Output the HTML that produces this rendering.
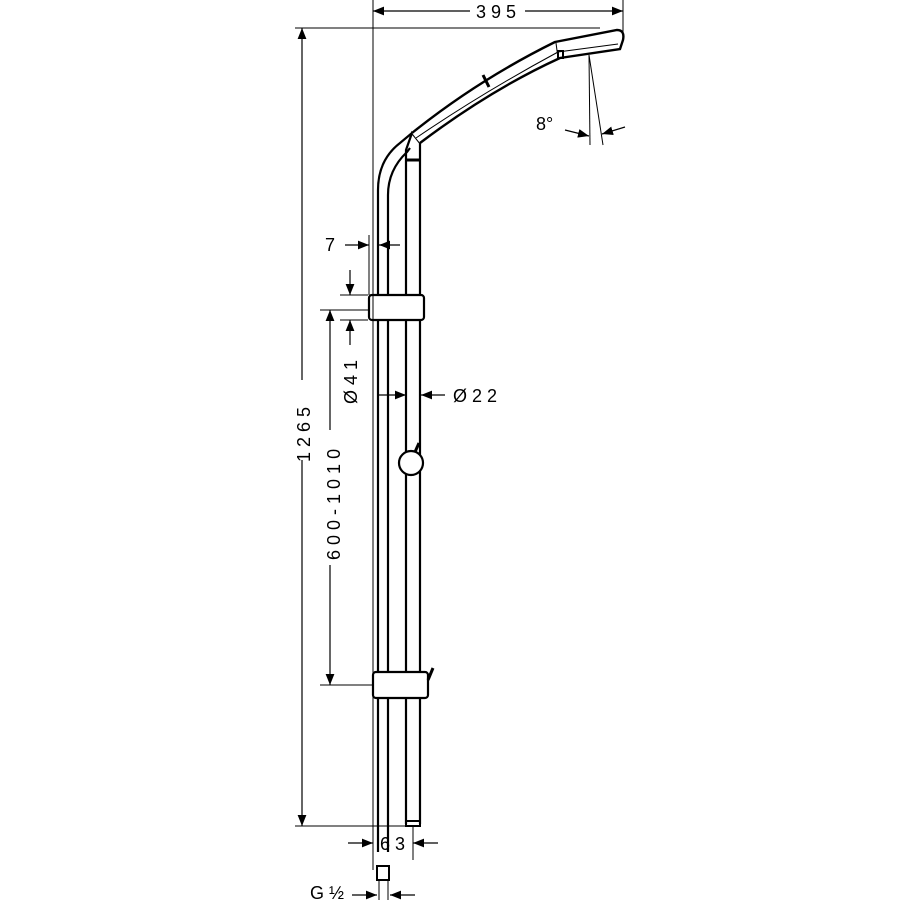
<!DOCTYPE html>
<html><head><style>body{margin:0;background:#fff}svg{display:block}text{font-family:"Liberation Sans",sans-serif;font-size:18px;fill:#000}</style></head><body>
<svg width="900" height="900" viewBox="0 0 900 900">
<defs><marker id="a" viewBox="0 0 10 10" refX="10" refY="5" markerWidth="11" markerHeight="11" markerUnits="userSpaceOnUse" orient="auto"><path d="M0,1 L10,5 L0,9z" fill="#000"/></marker></defs>
<g stroke="#000" fill="none">
<line x1="373" y1="0" x2="373" y2="870" stroke-width="1"/>
<line x1="623" y1="0" x2="623" y2="40" stroke-width="1"/>
<line x1="295" y1="28" x2="600" y2="28" stroke-width="1"/>
<line x1="295" y1="826" x2="420" y2="826" stroke-width="1"/>
<line x1="470" y1="11" x2="373" y2="11" stroke-width="1.2" marker-end="url(#a)"/>
<line x1="525" y1="11" x2="623" y2="11" stroke-width="1.2" marker-end="url(#a)"/>
<line x1="302" y1="380" x2="302" y2="28" stroke-width="1.2" marker-end="url(#a)"/>
<line x1="302" y1="460" x2="302" y2="826" stroke-width="1.2" marker-end="url(#a)"/>
<line x1="330" y1="430" x2="330" y2="310" stroke-width="1.2" marker-end="url(#a)"/>
<line x1="330" y1="565" x2="330" y2="685" stroke-width="1.2" marker-end="url(#a)"/>
<line x1="320" y1="310" x2="368" y2="310" stroke-width="1"/>
<line x1="320" y1="685" x2="372" y2="685" stroke-width="1"/>
<line x1="340" y1="295" x2="368" y2="295" stroke-width="1"/>
<line x1="340" y1="320" x2="368" y2="320" stroke-width="1"/>
<line x1="350" y1="270" x2="350" y2="295" stroke-width="1.2" marker-end="url(#a)"/>
<line x1="350" y1="345" x2="350" y2="320" stroke-width="1.2" marker-end="url(#a)"/>
<line x1="345" y1="245" x2="369" y2="245" stroke-width="1.2" marker-end="url(#a)"/>
<line x1="400" y1="245" x2="379" y2="245" stroke-width="1.2" marker-end="url(#a)"/>
<line x1="369" y1="235" x2="369" y2="295" stroke-width="1"/>
<line x1="378" y1="395" x2="406" y2="395" stroke-width="1.2" marker-end="url(#a)"/>
<line x1="445" y1="395" x2="421" y2="395" stroke-width="1.2" marker-end="url(#a)"/>
<line x1="348" y1="843" x2="373" y2="843" stroke-width="1.2" marker-end="url(#a)"/>
<line x1="438" y1="843" x2="413" y2="843" stroke-width="1.2" marker-end="url(#a)"/>
<line x1="413" y1="826" x2="413" y2="860" stroke-width="1"/>
<line x1="352" y1="895" x2="377" y2="895" stroke-width="1.2" marker-end="url(#a)"/>
<line x1="415" y1="895" x2="390" y2="895" stroke-width="1.2" marker-end="url(#a)"/>
<line x1="589" y1="55" x2="590" y2="145" stroke-width="1"/>
<line x1="589" y1="55" x2="603" y2="145" stroke-width="1"/>
<line x1="565" y1="130" x2="589" y2="136" stroke-width="1.2" marker-end="url(#a)"/>
<line x1="625" y1="127" x2="602" y2="134" stroke-width="1.2" marker-end="url(#a)"/>
<path d="M378,852 L378,190 Q378,160 400,143 L412,133" stroke-width="2.2"/>
<path d="M388,852 L388,195 Q388,170 407,152 L410,148" stroke-width="2.2"/>
<path d="M406,824 L406,150 L412,133 L420,143 L420,824" stroke-width="2.2"/>
<line x1="406" y1="160" x2="420" y2="160" stroke-width="3"/>
<rect x="406" y="821" width="14" height="5" stroke-width="2"/>
<path d="M412,133 Q478,80 555,42 L617,30 Q625,30 623,40 L620,49 L560,58 Q490,90 420,143" stroke-width="2.4" fill="#fff"/>
<path d="M416,138 Q482,93 558,52 L618,44" stroke-width="1"/>
<line x1="483" y1="75" x2="489" y2="87" stroke-width="3"/>
<line x1="556" y1="43" x2="558" y2="58" stroke-width="1"/>
<rect x="558" y="51" width="5" height="7" stroke-width="2"/>
<rect x="369" y="295" width="55" height="25" rx="3" stroke-width="2.2" fill="#fff"/>
<line x1="373" y1="296" x2="373" y2="319" stroke-width="1"/>
<rect x="373" y="672" width="55" height="26" rx="3" stroke-width="2.2" fill="#fff"/>
<path d="M428,680 L433,668" stroke-width="3"/>
<circle cx="411" cy="463" r="12" stroke-width="2.2" fill="#fff"/>
<line x1="415" y1="452" x2="419" y2="443" stroke-width="3"/>
<rect x="377" y="866" width="12" height="14" stroke-width="2"/>
<line x1="379" y1="880" x2="379" y2="900" stroke-width="1"/>
<line x1="388" y1="880" x2="388" y2="900" stroke-width="1"/>
</g>
<text x="476" y="18">3 9 5</text>
<text x="536" y="130" font-size="15">8°</text>
<text x="325" y="251">7</text>
<text x="453" y="402">Ø  2 2</text>
<text x="380" y="850">6 3</text>
<text x="310" y="899">G ½</text>
<text transform="translate(310,462) rotate(-90)">1 2 6 5</text>
<text transform="translate(340,560) rotate(-90)">6 0 0  -  1 0 1 0</text>
<text transform="translate(357,404) rotate(-90)">Ø  4 1</text>
</svg>
</body></html>
